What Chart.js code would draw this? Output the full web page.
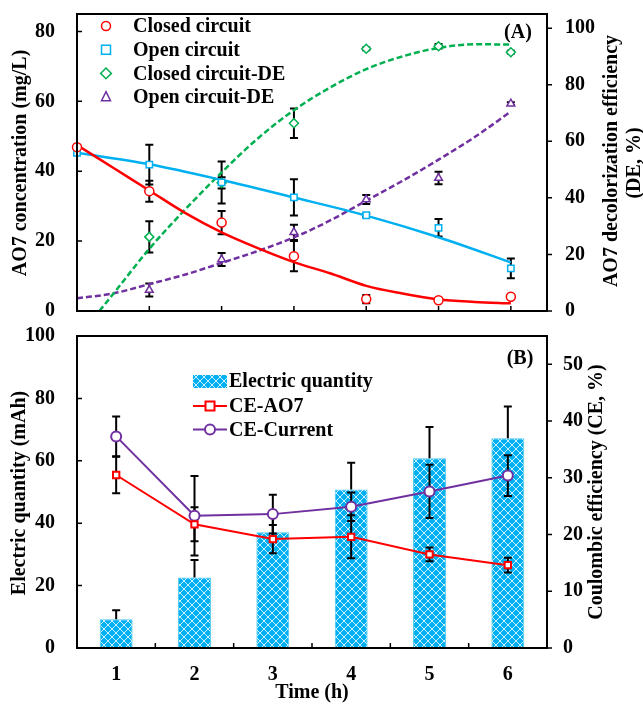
<!DOCTYPE html>
<html>
<head>
<meta charset="utf-8">
<script src="https://cdn.jsdelivr.net/npm/chart.js@4.4.1/dist/chart.umd.min.js"></script>
<style>
  body { margin: 0; background: #fff; }
  canvas { display: block; }
</style>
</head>
<body>
<canvas id="chartA" width="643" height="325"></canvas>
<canvas id="chartB" width="643" height="379"></canvas>
<script>
// ---- panel (A): measured points ----
const hoursA = [0, 1, 2, 3, 4, 5, 6];
const closedConc = [46.9, 34.3, 25.3, 15.7, 3.4, 3.1, 4.1];
const closedConcErr = [0, 3, 3.3, 4.3, 1.2, 0.4, 0.4];
const openConc = [45.3, 41.9, 36.8, 32.5, 27.4, 23.8, 12.2];
const openConcErr = [0, 5.7, 6, 5.2, 0.5, 2.5, 2.8];
const hoursDE = [1, 2, 3, 4, 5, 6];
const closedDE = [26.2, 45.3, 66.4, 92.7, 93.6, 91.5];
const closedDEErr = [5.5, 2, 5.2, 0.5, 0.8, 0.5];
const openDE = [7.4, 18.2, 27.8, 39.4, 47.0, 73.3];
const openDEErr = [2.3, 2.3, 2.7, 1.6, 2.2, 0.5];

// ---- panel (A): fitted curves ----
const fitHours = [0, 0.5, 1, 1.5, 2, 2.5, 3, 3.5, 4, 4.5, 5, 5.5, 6];
const closedFit = [47.5, 41, 34.5, 28, 22.5, 18, 14, 10.8, 7.2, 5, 3.3, 2.6, 2.2];
const openFitHours = [0, 1, 2, 3, 4, 5, 6];
const openFit = [45.3, 42, 37.5, 32.5, 27.3, 21.1, 13.9];
const closedDEFitHours = [0.31, 0.5, 1, 1.5, 2, 2.5, 3, 3.5, 4, 4.5, 5, 5.5, 6];
const closedDEFit = [0, 6, 22, 36, 49, 61, 71, 79, 85.5, 90, 93, 94.3, 94.2];
const openDEFit = [4.5, 6.2, 9.5, 12.9, 17, 21.2, 26, 32, 39, 46, 53.5, 61.5, 70.5];

const concTicks = [0, 20, 40, 60, 80];
const deTicks = [0, 20, 40, 60, 80, 100];

// ---- panel (B) ----
const timeLabels = ["1", "2", "3", "4", "5", "6"];
const electricQ = [9.2, 22.6, 37.1, 50.8, 60.8, 67.2];
const electricQErr = [2.9, 5.6, 6.9, 8.6, 10, 10.2];
const ceAO7 = [30.5, 21.8, 19.2, 19.6, 16.5, 14.6];
const ceAO7Err = [3.2, 3.0, 2.5, 3.8, 1.2, 1.3];
const ceCurrent = [37.3, 23.3, 23.6, 24.9, 27.6, 30.4];
const ceCurrentErr = [3.5, 7.0, 3.4, 2.5, 4.7, 3.6];
const qTicks = [0, 20, 40, 60, 80, 100];
const ceTicks = [0, 10, 20, 30, 40, 50];

const RED = "#ff0000", BLUE = "#00b0f0", GREEN = "#00b050", PURPLE = "#7030a0";
const SERIF = "'Liberation Serif', 'Times New Roman', serif";
const tickFont = { family: SERIF, size: 20, weight: "bold" };
const boldFont = "bold 20px " + SERIF;

const pts = (xs, ys) => xs.map((x, i) => ({ x: x, y: ys[i] }));

function marker(ctx, style, x, y, r) {
  ctx.beginPath();
  if (style === "circle") ctx.arc(x, y, r, 0, Math.PI * 2);
  else if (style === "rect") ctx.rect(x - r, y - r, 2 * r, 2 * r);
  else if (style === "rectRot") {
    ctx.moveTo(x, y - r * 1.2); ctx.lineTo(x + r * 1.2, y);
    ctx.lineTo(x, y + r * 1.2); ctx.lineTo(x - r * 1.2, y); ctx.closePath();
  } else if (style === "triangle") {
    ctx.moveTo(x, y - r * 1.2); ctx.lineTo(x + r, y + r * 0.8);
    ctx.lineTo(x - r, y + r * 0.8); ctx.closePath();
  }
  ctx.fill();
  ctx.stroke();
}

// error bars from each dataset's err array
function drawErrors(chart) {
  const ctx = chart.ctx;
  ctx.save();
  ctx.strokeStyle = "#000";
  ctx.lineWidth = 2;
  chart.data.datasets.forEach((ds, i) => {
    if (!ds.err) return;
    const meta = chart.getDatasetMeta(i);
    const ys = chart.scales[meta.yAxisID];
    meta.data.forEach((el, j) => {
      const e = ds.err[j];
      if (!e) return;
      const raw = ds.data[j];
      const v = typeof raw === "object" ? raw.y : raw;
      const top = ys.getPixelForValue(v + e);
      const bot = ys.getPixelForValue(ds.errUp ? v : v - e);
      ctx.beginPath();
      ctx.moveTo(el.x, top); ctx.lineTo(el.x, bot);
      ctx.moveTo(el.x - 4, top); ctx.lineTo(el.x + 4, top);
      if (!ds.errUp) { ctx.moveTo(el.x - 4, bot); ctx.lineTo(el.x + 4, bot); }
      ctx.stroke();
    });
  });
  ctx.restore();
}

// fixed axis sizes, no automatic label padding
const fixWidth = w => s => { s.width = w; s.paddingTop = 0; s.paddingBottom = 0; };
const fixHeight = h => s => { s.height = h; s.paddingLeft = 0; s.paddingRight = 0; };

// frame, inward/outward tick marks, titles and legend
function decor(xTickValues, texts, legend) {
  return {
    id: "decor",
    afterDraw(chart) {
      const { ctx, chartArea: a, scales } = chart;
      ctx.save();
      ctx.strokeStyle = "#000";
      ctx.lineWidth = 2;
      ctx.strokeRect(a.left, a.top, a.right - a.left, a.bottom - a.top);
      ctx.lineWidth = 1.5;
      ctx.beginPath();
      scales.y.ticks.forEach(t => {
        const p = scales.y.getPixelForValue(t.value);
        ctx.moveTo(a.left, p); ctx.lineTo(a.left + 5, p);
      });
      scales.y1.ticks.forEach(t => {
        const p = scales.y1.getPixelForValue(t.value);
        ctx.moveTo(a.right, p); ctx.lineTo(a.right + 5, p);
      });
      xTickValues.forEach(v => {
        const p = scales.x.getPixelForValue(v);
        ctx.moveTo(p, a.bottom); ctx.lineTo(p, a.bottom - 5);
      });
      ctx.stroke();

      ctx.fillStyle = "#000";
      ctx.font = boldFont;
      ctx.textAlign = "center";
      ctx.textBaseline = "middle";
      texts.forEach(t => {
        ctx.save();
        ctx.translate(t.x, t.y);
        if (t.rot) ctx.rotate(-Math.PI / 2);
        ctx.fillText(t.text, 0, 0);
        ctx.restore();
      });

      legend(ctx);
      ctx.restore();
    }
  };
}

// ---------- chart A ----------
const pointSet = (label, data, err, axis, color, style) => ({
  label: label, data: data, err: err, yAxisID: axis,
  pointStyle: style, pointRadius: 4.5, pointBorderWidth: 1.5,
  borderColor: color, backgroundColor: "#fff", showLine: false, clip: false, order: 0
});
const curveSet = (data, axis, color, dashed) => ({
  data: data, yAxisID: axis, showLine: true, pointRadius: 0,
  borderColor: color, borderWidth: 2.5, borderDash: dashed ? [6, 3] : [],
  cubicInterpolationMode: "monotone", order: 1
});

const legendA = [
  { text: "Closed circuit", color: RED, style: "circle" },
  { text: "Open circuit", color: BLUE, style: "rect" },
  { text: "Closed circuit-DE", color: GREEN, style: "rectRot" },
  { text: "Open circuit-DE", color: PURPLE, style: "triangle" }
];

new Chart(document.getElementById("chartA"), {
  type: "scatter",
  data: {
    datasets: [
      pointSet("Closed circuit", pts(hoursA, closedConc), closedConcErr, "y", RED, "circle"),
      pointSet("Open circuit", pts(hoursA, openConc), openConcErr, "y", BLUE, "rect"),
      pointSet("Closed circuit-DE", pts(hoursDE, closedDE), closedDEErr, "y1", GREEN, "rectRot"),
      pointSet("Open circuit-DE", pts(hoursDE, openDE), openDEErr, "y1", PURPLE, "triangle"),
      curveSet(pts(fitHours, closedFit), "y", RED, false),
      curveSet(pts(openFitHours, openFit), "y", BLUE, false),
      curveSet(pts(closedDEFitHours, closedDEFit), "y1", GREEN, true),
      curveSet(pts(fitHours, openDEFit), "y1", PURPLE, true)
    ]
  },
  options: {
    responsive: false,
    animation: false,
    layout: { autoPadding: false, padding: { top: 14, left: 0, right: 0, bottom: 0 } },
    plugins: { legend: { display: false }, tooltip: { enabled: false } },
    scales: {
      x: {
        type: "linear", min: 0, max: 6.5,
        ticks: { display: false }, grid: { display: false, drawTicks: false }, border: { display: false },
        afterFit: fixHeight(14)
      },
      y: {
        position: "left", min: 0, max: 85,
        afterBuildTicks: s => { s.ticks = concTicks.map(v => ({ value: v })); },
        ticks: { font: tickFont, color: "#000", padding: 22 },
        grid: { display: false, drawTicks: false }, border: { display: false },
        afterFit: fixWidth(77)
      },
      y1: {
        position: "right", min: 0, max: 105,
        afterBuildTicks: s => { s.ticks = deTicks.map(v => ({ value: v })); },
        ticks: { font: tickFont, color: "#000", padding: 18 },
        grid: { display: false, drawTicks: false }, border: { display: false },
        afterFit: fixWidth(96)
      }
    }
  },
  plugins: [
    { id: "errA", beforeDatasetsDraw: drawErrors },
    decor([1, 2, 3, 4, 5, 6], [
      { text: "AO7 concentration (mg/L)", x: 21, y: 163, rot: true },
      { text: "AO7 decolorization efficiency", x: 612, y: 161, rot: true },
      { text: "(DE, %)", x: 635, y: 163, rot: true },
      { text: "(A)", x: 518, y: 33 }
    ], ctx => {
      ctx.textAlign = "left";
      legendA.forEach((l, i) => {
        const y = 26 + i * 23.7;
        ctx.strokeStyle = l.color;
        ctx.fillStyle = "#fff";
        ctx.lineWidth = 1.5;
        marker(ctx, l.style, 106, y, 4.5);
        ctx.fillStyle = "#000";
        ctx.fillText(l.text, 133, y + 1);
      });
    })
  ]
});

// ---------- chart B ----------
const canvasB = document.getElementById("chartB");
const tile = document.createElement("canvas");
tile.width = tile.height = 8;
const tg = tile.getContext("2d");
tg.fillStyle = BLUE;
tg.fillRect(0, 0, 8, 8);
tg.strokeStyle = "rgba(255,255,255,0.8)";
tg.lineWidth = 1;
tg.beginPath();
tg.moveTo(0, 0); tg.lineTo(8, 8);
tg.moveTo(8, 0); tg.lineTo(0, 8);
tg.stroke();
const hatch = canvasB.getContext("2d").createPattern(tile, "repeat");

new Chart(canvasB, {
  type: "bar",
  data: {
    labels: timeLabels,
    datasets: [
      {
        label: "Electric quantity", data: electricQ, err: electricQErr, errUp: true,
        yAxisID: "y", backgroundColor: hatch, borderColor: "#4cc6f2", borderWidth: 1,
        barPercentage: 0.42, categoryPercentage: 1, order: 2
      },
      {
        type: "line", label: "CE-AO7", data: ceAO7, err: ceAO7Err, yAxisID: "y1",
        borderColor: RED, borderWidth: 2, pointStyle: "rect", pointRadius: 4.5,
        pointBackgroundColor: "#fff", pointBorderColor: RED, pointBorderWidth: 2, order: 1
      },
      {
        type: "line", label: "CE-Current", data: ceCurrent, err: ceCurrentErr, yAxisID: "y1",
        borderColor: PURPLE, borderWidth: 2, pointStyle: "circle", pointRadius: 5,
        pointBackgroundColor: "#fff", pointBorderColor: PURPLE, pointBorderWidth: 2, order: 1
      }
    ]
  },
  options: {
    responsive: false,
    animation: false,
    layout: { autoPadding: false, padding: { top: 11, left: 0, right: 0, bottom: 0 } },
    plugins: { legend: { display: false }, tooltip: { enabled: false } },
    scales: {
      x: {
        ticks: { font: tickFont, color: "#000", padding: 15 },
        grid: { display: false, drawTicks: false }, border: { display: false },
        afterFit: fixHeight(56)
      },
      y: {
        position: "left", min: 0, max: 100,
        afterBuildTicks: s => { s.ticks = qTicks.map(v => ({ value: v })); },
        ticks: { font: tickFont, color: "#000", padding: 22 },
        grid: { display: false, drawTicks: false }, border: { display: false },
        afterFit: fixWidth(77)
      },
      y1: {
        position: "right", min: 0, max: 55,
        afterBuildTicks: s => { s.ticks = ceTicks.map(v => ({ value: v })); },
        ticks: { font: tickFont, color: "#000", padding: 16 },
        grid: { display: false, drawTicks: false }, border: { display: false },
        afterFit: fixWidth(96)
      }
    }
  },
  plugins: [
    { id: "errB", afterDatasetDraw(chart, args) { if (args.index === 0) drawErrors(chart); } },
    decor([0.5, 1.5, 2.5, 3.5, 4.5], [
      { text: "Electric quantity (mAh)", x: 20, y: 168, rot: true },
      { text: "Coulombic efficiency (CE, %)", x: 597, y: 167, rot: true },
      { text: "Time (h)", x: 312, y: 368 },
      { text: "(B)", x: 520, y: 34 }
    ], ctx => {
      ctx.textAlign = "left";
      ctx.fillStyle = hatch;
      ctx.fillRect(193, 50, 34, 13);
      ctx.fillStyle = "#000";
      ctx.fillText("Electric quantity", 229, 57);
      [["CE-AO7", RED, "rect", 4.5], ["CE-Current", PURPLE, "circle", 5]].forEach((l, i) => {
        const y = 81 + i * 23.6;
        ctx.strokeStyle = l[1];
        ctx.lineWidth = 2;
        ctx.beginPath(); ctx.moveTo(193, y); ctx.lineTo(227, y); ctx.stroke();
        ctx.fillStyle = "#fff";
        marker(ctx, l[2], 210, y, l[3]);
        ctx.fillStyle = "#000";
        ctx.fillText(l[0], 229, y + 1);
      });
    })
  ]
});
</script>
</body>
</html>
